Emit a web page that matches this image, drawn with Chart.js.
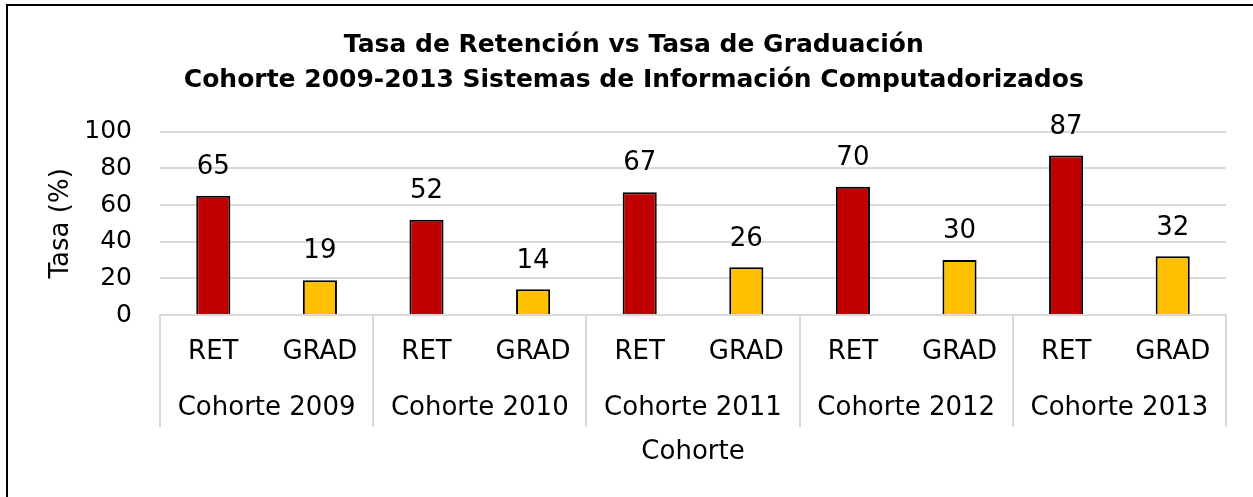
<!DOCTYPE html>
<html><head><meta charset="utf-8">
<script src="https://cdn.jsdelivr.net/npm/chart.js@4/dist/chart.umd.min.js"></script>
<style>
html,body{margin:0;padding:0;background:#fff;overflow:hidden}
#wrap{position:relative;width:1253px;height:497px;overflow:hidden}
#frame{position:absolute;left:6px;top:4px;width:1300px;height:600px;border-top:2px solid #000;border-left:2px solid #000;pointer-events:none}
canvas{position:absolute;left:0;top:0}
</style></head><body>
<div id="wrap"><canvas id="c" width="1253" height="497"></canvas><div id="frame"></div></div>
<script>
const titleLines = ['Tasa de Retención vs Tasa de Graduación', 'Cohorte 2009-2013 Sistemas de Información Computadorizados'];
const categories = ['RET','GRAD','RET','GRAD','RET','GRAD','RET','GRAD','RET','GRAD'];
const cohorts = ['Cohorte 2009','Cohorte 2010','Cohorte 2011','Cohorte 2012','Cohorte 2013'];
const values = [65,19,52,14,67,26,70,30,87,32];
const barColors = ['#C00000','#FFC000','#C00000','#FFC000','#C00000','#FFC000','#C00000','#FFC000','#C00000','#FFC000'];
const yMin = 0, yMax = 100, yStep = 20;
const yTitle = 'Tasa (%)';
const xTitle = 'Cohorte';

const FONT = "'DejaVu Sans', sans-serif";
const SIZE = 26;
const YSIZE = 25;

const valueLabels = {
  id: 'valueLabels',
  afterDatasetsDraw(chart) {
    const ctx = chart.ctx;
    const meta = chart.getDatasetMeta(0);
    ctx.save();
    ctx.font = SIZE + 'px ' + FONT;
    ctx.fillStyle = '#000';
    ctx.textAlign = 'center';
    ctx.textBaseline = 'middle';
    meta.data.forEach((bar, i) => {
      ctx.fillText(String(chart.data.datasets[0].data[i]), bar.x, bar.y - 28.5);
    });
    ctx.restore();
  }
};

const groupSeparators = {
  id: 'groupSeparators',
  afterDraw(chart) {
    const xs = chart.scales.x;
    const n = categories.length;
    const ctx = chart.ctx;
    const top = chart.chartArea.bottom;
    const bottom = top + 112;
    ctx.save();
    ctx.strokeStyle = '#d9d9d9';
    ctx.lineWidth = 2;
    for (let k = 0; k <= n; k += 2) {
      const x = Math.round(xs.getPixelForDecimal(k / n));
      ctx.beginPath();
      ctx.moveTo(x, top);
      ctx.lineTo(x, bottom);
      ctx.stroke();
    }
    ctx.restore();
  }
};

new Chart(document.getElementById('c'), {
  type: 'bar',
  data: {
    labels: categories,
    datasets: [{
      data: values,
      backgroundColor: barColors,
      borderColor: '#000',
      borderWidth: 2,
      barPercentage: 0.32,
      categoryPercentage: 1
    }]
  },
  options: {
    responsive: false,
    animation: false,
    devicePixelRatio: 1,
    layout: { padding: { left: 41.6, right: 27, top: 0, bottom: 25.4 } },
    plugins: {
      legend: { display: false },
      tooltip: { enabled: false },
      title: {
        display: true,
        text: titleLines,
        color: '#000',
        font: { family: FONT, size: 25, weight: 'bold', lineHeight: '35px' },
        padding: { top: 27.5, bottom: 34.2 }
      }
    },
    scales: {
      x: {
        type: 'category',
        position: 'bottom',
        weight: 0,
        offset: true,
        grid: { display: false, drawTicks: false },
        border: { display: true, color: '#d9d9d9', width: 2 },
        ticks: { color: '#000', font: { family: FONT, size: SIZE }, padding: 21.4, maxRotation: 0, autoSkip: false },
        afterFit(s) { s.height = 53; }
      },
      x2: {
        type: 'category',
        position: 'bottom',
        weight: 1,
        labels: cohorts,
        offset: true,
        grid: { display: false, drawTicks: false },
        border: { display: false },
        ticks: { color: '#000', font: { family: FONT, size: SIZE }, padding: 24.4, maxRotation: 0, autoSkip: false },
        title: { display: true, text: xTitle, color: '#000', font: { family: FONT, size: SIZE }, padding: { top: 4, bottom: 4 } },
        afterFit(s) { s.height = 103.6; }
      },
      y: {
        min: yMin, max: yMax,
        grid: { color: '#d9d9d9', lineWidth: 2, drawTicks: false },
        border: { display: false },
        ticks: { stepSize: yStep, color: '#000', font: { family: FONT, size: YSIZE }, padding: 28 },
        title: { display: true, text: yTitle, color: '#000', font: { family: FONT, size: SIZE }, padding: { top: 4, bottom: 4 } },
        afterFit(s) { s.width = 118.4; }
      }
    }
  },
  plugins: [valueLabels, groupSeparators]
});
</script>
</body></html>
